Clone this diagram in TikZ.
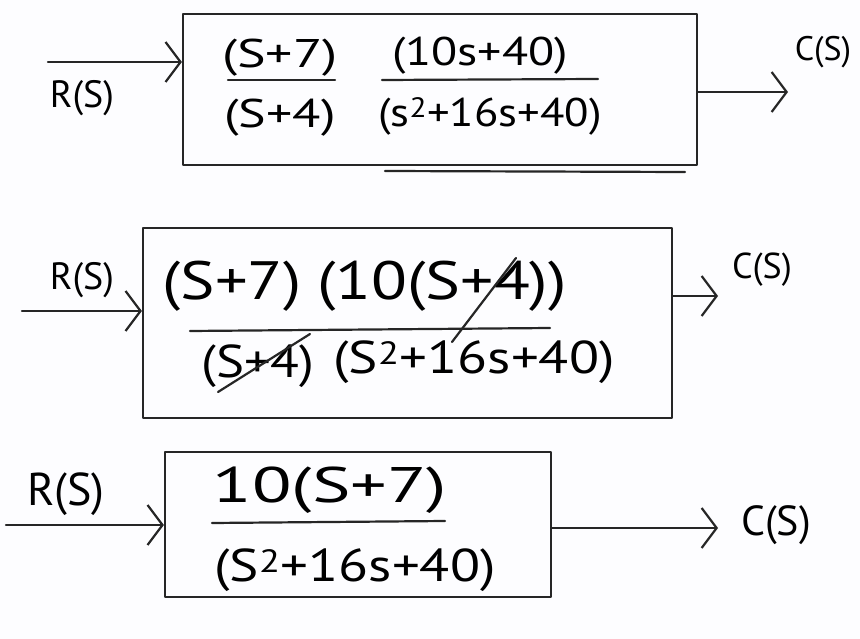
\documentclass[tikz,border=0pt]{standalone}
\usepackage{fontspec}
\setmainfont{PT Sans}
\usetikzlibrary{arrows.meta}
\tikzset{
  pen/.style={line width=2.2pt, line cap=round, line join=round, black!85},
  blk/.style={draw, pen, minimum width=#1, inner sep=0pt},
  sig/.style={pen, -{Straight Barb[length=15pt,width=40pt,line width=2.2pt]}},
  bar/.style={pen},
  expr/.style={inner sep=0pt, font=\fontsize{#1}{#1}\selectfont, transform shape},
  expr/.default=40,
  lbl/.style={inner sep=0pt, font=\fontsize{#1}{#1}\selectfont},
  lbl/.default=36,
}
\begin{document}
\begin{tikzpicture}[x=1pt,y=-1pt]
\useasboundingbox (0,0) rectangle (860,639);
\fill[white!97!blue!20] (0,0) rectangle (860,639);

% ---------- first block ----------
\node[blk=514pt, minimum height=151pt] (b1) at (440,89.5) {};
\node[expr, xscale=1.35] (n1a) at (280,58) {(S+7)};
\node[expr, xscale=1.2] (n1b) at (480,56) {(10s+40)};
\node[expr, xscale=1.3] (d1a) at (280,118) {(S+4)};
\node[expr, xscale=1.12] (d1b) at (490,116) {(s\textsuperscript{2}+16s+40)};
\draw[bar] (228,80) -- (335,80);
\draw[bar] (382,80) -- (598,79);
\draw[pen] (385,171) -- (685,172);
\coordinate (in1) at (48,62);
\coordinate (out1) at (788,92);
\draw[sig] (in1) -- (in1 -| b1.west);
\draw[sig] (b1.east |- out1) -- (out1);
\node[lbl=38] (r1) at (82,98) {R(S)};
\node[lbl=34] (c1) at (823,52) {C(S)};

% ---------- second block ----------
\node[blk=529pt, minimum height=190pt] (b2) at (407.5,323) {};
\node[expr=54, xscale=1.2] (n2a) at (232,286) {(S+7)};
\node[expr=54, xscale=1.22] (n2b) at (442,286) {(10(S+4))};
\node[expr=46, xscale=1.15] (d2a) at (258,366) {(S+4)};
\node[expr=46, xscale=1.2] (d2b) at (474,362) {(S\textsuperscript{2}+16s+40)};
\draw[bar] (190,331) -- (550,328);
% cancelled factors
\draw[pen] (452,342) -- (516,258);
\draw[pen] (218,392) -- (310,334);
\coordinate (in2) at (22,311);
\coordinate (out2) at (718,296);
\draw[sig] (in2) -- (in2 -| b2.west);
\draw[sig] (b2.east |- out2) -- (out2);
\node[lbl=38] (r2) at (82,280) {R(S)};
\node[lbl=36] (c2) at (762,270) {C(S)};

% ---------- third block ----------
\node[blk=386pt, minimum height=145pt] (b3) at (358,524.5) {};
\node[expr=50, xscale=1.45] (n3) at (330,490) {10(S+7)};
\node[expr=46, xscale=1.2] (d3) at (355,570) {(S\textsuperscript{2}+16s+40)};
\draw[bar] (212,523) -- (445,521);
\coordinate (in3) at (6,525);
\coordinate (out3) at (718,528);
\draw[sig] (in3) -- (in3 -| b3.west);
\draw[sig] (b3.east |- out3) -- (out3);
\node[lbl=46] (r3) at (66,494) {R(S)};
\node[lbl=42] (c3) at (776,525) {C(S)};
\end{tikzpicture}
\end{document}
